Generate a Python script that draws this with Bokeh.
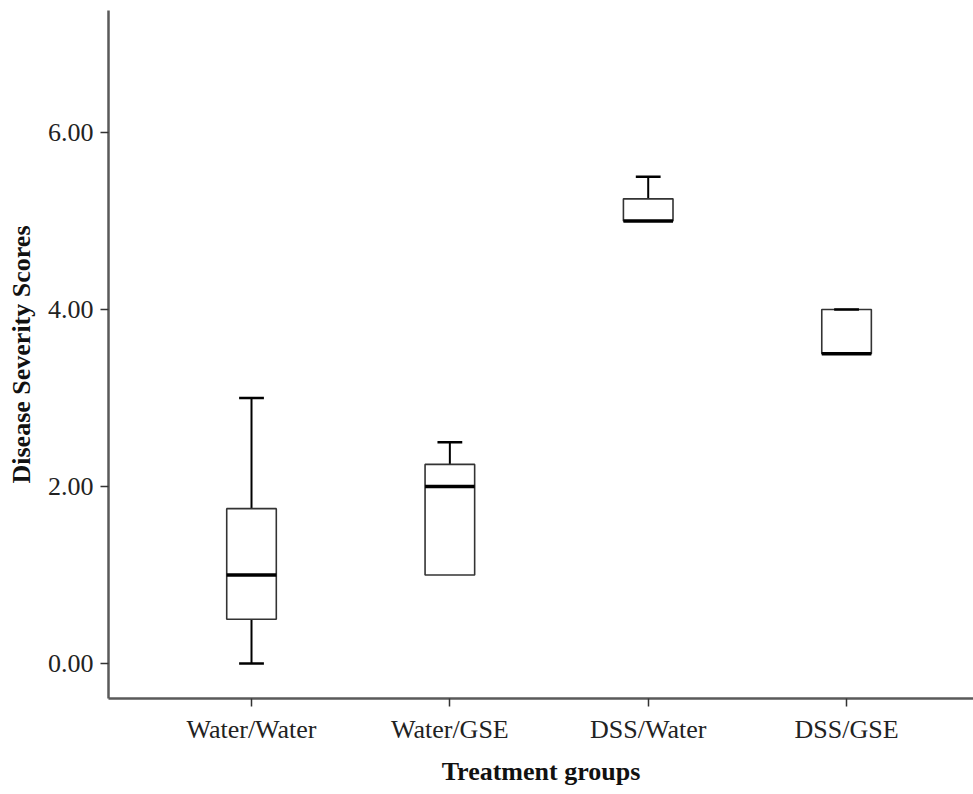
from bokeh.plotting import figure
from bokeh.models import Range1d, FixedTicker
from bokeh.embed import file_html
from bokeh.resources import INLINE

groups = ["Water/Water", "Water/GSE", "DSS/Water", "DSS/GSE"]
q1 = [0.5, 1.0, 5.0, 3.5]
median = [1.0, 2.0, 5.0, 3.5]
q3 = [1.75, 2.25, 5.25, 4.0]
low = [0.0, 1.0, 5.0, 3.5]
high = [3.0, 2.5, 5.5, 4.0]
y_ticks = [0, 2, 4, 6]
y_tick_labels = ["0.00", "2.00", "4.00", "6.00"]

xs = list(range(1, len(groups) + 1))
box_w = 0.25
cap_w = 0.125

p = figure(width=973, height=794, output_backend="svg", toolbar_location=None,
           x_range=Range1d(0.279, 4.64), y_range=Range1d(-0.395, 7.378),
           min_border_left=108, min_border_right=0, min_border_top=10, min_border_bottom=96)
p.outline_line_color = None
p.xgrid.visible = False
p.ygrid.visible = False
p.background_fill_color = "white"
p.border_fill_color = "white"

# whiskers
p.segment(x0=xs, y0=low, x1=xs, y1=q1, line_color="black", line_width=2)
p.segment(x0=xs, y0=q3, x1=xs, y1=high, line_color="black", line_width=2)

# boxes
p.vbar(x=xs, bottom=q1, top=q3, width=box_w, fill_color="white",
       line_color="#333333", line_width=1.6)

# caps
up_x = xs
p.segment(x0=[x - cap_w / 2 for x in up_x], y0=high, x1=[x + cap_w / 2 for x in up_x], y1=high,
          line_color="black", line_width=2.5)
lx = [x for x, l, b in zip(xs, low, q1) if l < b]
ly = [l for l, b in zip(low, q1) if l < b]
p.segment(x0=[x - cap_w / 2 for x in lx], y0=ly, x1=[x + cap_w / 2 for x in lx], y1=ly,
          line_color="black", line_width=2.5)

# medians
p.segment(x0=[x - box_w / 2 for x in xs], y0=median, x1=[x + box_w / 2 for x in xs], y1=median,
          line_color="black", line_width=3.5)

font = "Liberation Serif"
p.xaxis.ticker = FixedTicker(ticks=xs)
p.xaxis.major_label_overrides = {x: g for x, g in zip(xs, groups)}
p.yaxis.ticker = FixedTicker(ticks=y_ticks)
p.yaxis.major_label_overrides = {t: l for t, l in zip(y_ticks, y_tick_labels)}

for ax in (p.xaxis, p.yaxis):
    ax.axis_line_color = "#5a5a5a"
    ax.axis_line_width = 2.5
    ax.major_tick_out = 8
    ax.major_tick_in = 0
    ax.minor_tick_line_color = None
    ax.major_tick_line_color = "#333333"
    ax.major_tick_line_width = 1.5
    ax.major_label_text_font = font
    ax.major_label_text_font_size = "26px"
    ax.major_label_text_color = "#222222"
    ax.axis_label_text_font = font
    ax.axis_label_text_font_style = "bold"
    ax.axis_label_text_font_size = "26px"
    ax.axis_label_text_color = "#111111"

p.xaxis.axis_label = "Treatment groups"
p.yaxis.axis_label = "Disease Severity Scores"
p.xaxis.major_label_standoff = 8
p.yaxis.major_label_standoff = 7
p.xaxis.axis_label_standoff = 10
p.yaxis.axis_label_standoff = 9

open("out.html", "w").write(file_html(p, INLINE))
